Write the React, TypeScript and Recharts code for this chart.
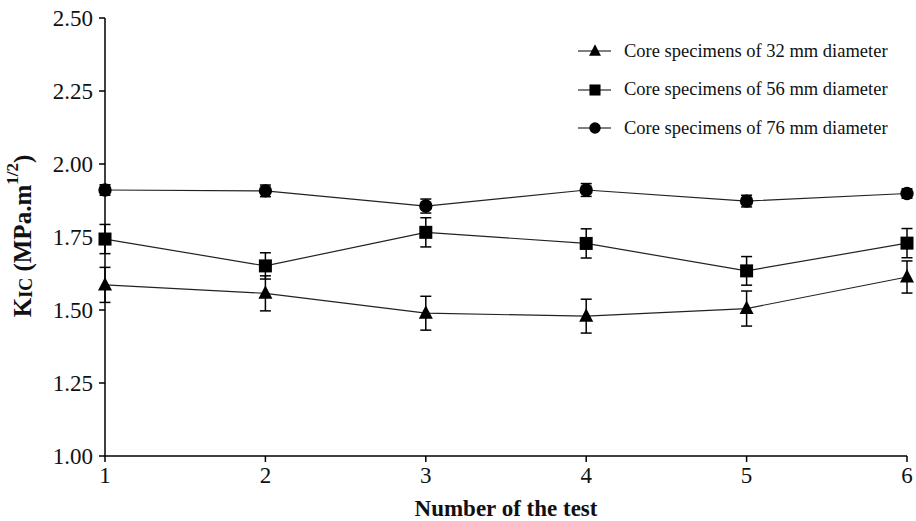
import React from 'react'
import { LineChart, Line, XAxis, YAxis, ErrorBar, Legend } from 'recharts'

const tests = [1, 2, 3, 4, 5, 6]
const yTicks = [1.0, 1.25, 1.5, 1.75, 2.0, 2.25, 2.5]

// K_IC means and deviations per core diameter
const k32 = [1.586, 1.557, 1.489, 1.479, 1.505, 1.613]
const e32 = [0.06, 0.06, 0.058, 0.058, 0.06, 0.055]
const k56 = [1.743, 1.651, 1.766, 1.728, 1.634, 1.729]
const e56 = [0.05, 0.045, 0.05, 0.05, 0.049, 0.05]
const k76 = [1.911, 1.908, 1.856, 1.911, 1.873, 1.899]
const e76 = [0.018, 0.02, 0.024, 0.022, 0.02, 0.016]

const seriesNames = [
    'Core specimens of 32 mm diameter',
    'Core specimens of 56 mm diameter',
    'Core specimens of 76 mm diameter',
]

const data = tests.map((t, i) => ({
    test: t,
    k32: k32[i], e32: e32[i],
    k56: k56[i], e56: e56[i],
    k76: k76[i], e76: e76[i],
}))

const FONT = 'Liberation Serif'

const Triangle = ({ cx, cy }: any) => {
    if (cx == null || cy == null) return null
    return <polygon points={`${cx},${cy - 8} ${cx - 7},${cy + 5.5} ${cx + 7},${cy + 5.5}`} fill="#000" />
}
const Square = ({ cx, cy }: any) => {
    if (cx == null || cy == null) return null
    return <rect x={cx - 6.5} y={cy - 6.5} width={13} height={13} fill="#000" />
}
const Circle = ({ cx, cy }: any) => {
    if (cx == null || cy == null) return null
    return <circle cx={cx} cy={cy} r={6.7} fill="#000" />
}

const markers = [Triangle, Square, Circle]

const renderXTick = ({ x, y, payload }: any) => (
    <text key={`xt-${payload.value}`} x={x} y={y + 19} textAnchor="middle" style={{ fontFamily: FONT, fontSize: 23 }} fill="#111">
        {payload.value}
    </text>
)

const renderYTick = ({ x, y, payload }: any) => (
    <text key={`yt-${payload.value}`} x={x} y={y + 8} textAnchor="end" style={{ fontFamily: FONT, fontSize: 23 }} fill="#111">
        {Number(payload.value).toFixed(2)}
    </text>
)

const renderLegend = () => (
    <div style={{ fontFamily: FONT, fontSize: 18.5, color: '#111' }}>
        {seriesNames.map((name, i) => {
            const M = markers[i]
            return (
                <div key={name} style={{ display: 'flex', alignItems: 'center', height: 38.5 }}>
                    <svg width={46} height={20} style={{ marginRight: 4 }}>
                        <line x1={4} y1={10} x2={37} y2={10} stroke="#000" strokeWidth={1.2} />
                        <g transform="translate(21,10) scale(0.85) translate(-21,-10)">
                            <M cx={21} cy={10} />
                        </g>
                    </svg>
                    <span>{name}</span>
                </div>
            )
        })}
    </div>
)

const renderYLabel = () => {
    const x = 22
    const y = 236
    return (
        <text
            x={x}
            y={y}
            transform={`rotate(-90, ${x}, ${y})`}
            textAnchor="middle"
            dominantBaseline="central"
            style={{ fontFamily: FONT, fontWeight: 'bold', fontSize: 25 }}
            fill="#111"
        >
            <tspan>K</tspan>
            <tspan style={{ fontSize: 18 }} dy={4}>IC</tspan>
            <tspan dy={-4}>{'  (MPa.m'}</tspan>
            <tspan style={{ fontSize: 17 }} dy={-10}>1/2</tspan>
            <tspan dy={10}>)</tspan>
        </text>
    )
}

export default function App() {
    return (
        <div style={{ position: 'absolute', left: 0, top: 0, background: '#fff' }}>
            <LineChart width={916} height={521} data={data} margin={{ top: 18, right: 9, bottom: 5, left: 40 }}>
                <XAxis
                    dataKey="test"
                    type="number"
                    domain={[1, 6]}
                    ticks={tests}
                    height={60}
                    stroke="#000"
                    strokeWidth={1.5}
                    tickSize={6}
                    tick={renderXTick}
                    label={{
                        value: 'Number of the test',
                        position: 'insideBottom',
                        offset: 0,
                        style: { fontFamily: FONT, fontWeight: 'bold', fontSize: 23, fill: '#111' },
                    }}
                />
                <YAxis
                    type="number"
                    domain={[1, 2.5]}
                    ticks={yTicks}
                    width={65}
                    stroke="#000"
                    strokeWidth={1.5}
                    tickSize={6}
                    tickMargin={6}
                    tick={renderYTick}
                    label={{ content: renderYLabel }}
                />
                <Legend
                    layout="vertical"
                    align="center"
                    verticalAlign="middle"
                    content={renderLegend}
                    wrapperStyle={{ position: 'absolute', left: 574, top: 32, width: 340 }}
                />
                <Line dataKey="k32" name={seriesNames[0]} stroke="#222" strokeWidth={1.2} dot={<Triangle />} activeDot={false} isAnimationActive={false}>
                    <ErrorBar dataKey="e32" direction="y" width={5.5} stroke="#000" strokeWidth={1.5} />
                </Line>
                <Line dataKey="k56" name={seriesNames[1]} stroke="#222" strokeWidth={1.2} dot={<Square />} activeDot={false} isAnimationActive={false}>
                    <ErrorBar dataKey="e56" direction="y" width={5.5} stroke="#000" strokeWidth={1.5} />
                </Line>
                <Line dataKey="k76" name={seriesNames[2]} stroke="#222" strokeWidth={1.2} dot={<Circle />} activeDot={false} isAnimationActive={false}>
                    <ErrorBar dataKey="e76" direction="y" width={5.5} stroke="#000" strokeWidth={1.5} />
                </Line>
            </LineChart>
        </div>
    )
}
